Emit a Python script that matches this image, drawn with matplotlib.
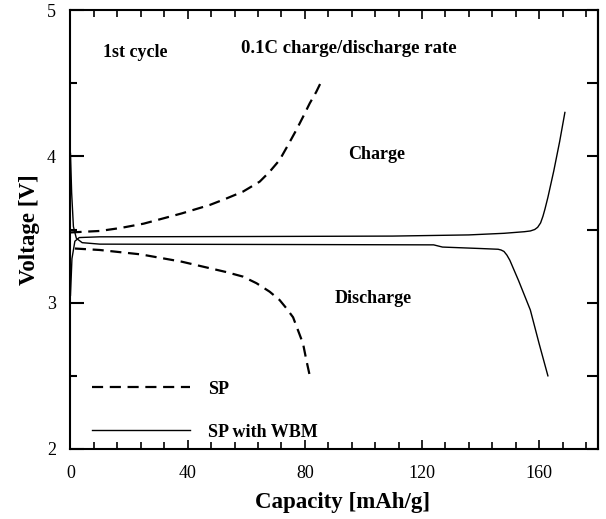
"""Voltage profile, 1st cycle: SP vs SP with WBM"""

import matplotlib
matplotlib.use("Agg")
import matplotlib.pyplot as plt
from matplotlib.ticker import MultipleLocator

# SP (dashed) charge / discharge
sp_charge_x = [0, 10, 17, 25, 38, 47.6, 53, 58.9, 64.6, 68, 71.4, 74.3, 77.1, 79.4, 81.7, 83.9, 85.6]
sp_charge_y = [3.48, 3.49, 3.51, 3.54, 3.61, 3.668, 3.71, 3.759, 3.827, 3.895, 3.975, 4.078, 4.18, 4.27, 4.363, 4.44, 4.51]
sp_dis_x = [1.5, 10, 24, 38, 53, 58.9, 63.5, 68, 71.4, 73.7, 76, 77.7, 79.4, 80.5, 81.7]
sp_dis_y = [3.37, 3.36, 3.33, 3.28, 3.21, 3.178, 3.133, 3.075, 3.018, 2.962, 2.90, 2.81, 2.72, 2.61, 2.50]

# SP with WBM (solid) charge / discharge
wbm_charge_x = [0, 0.5, 1.5, 3, 10, 60, 110, 136, 148, 155, 157, 158.5, 159.5, 160.5, 161.3, 162,
                163, 165, 167, 168.8]
wbm_charge_y = [3.05, 3.3, 3.42, 3.445, 3.45, 3.452, 3.455, 3.463, 3.474, 3.485, 3.49, 3.50, 3.515, 3.545, 3.59, 3.64,
                3.72, 3.90, 4.10, 4.30]
wbm_dis_x = [0, 0.4, 1, 2, 4, 10, 60, 124, 127, 140, 146, 147, 148, 149, 150, 151.5, 153, 157, 160, 163]
wbm_dis_y = [4.02, 3.75, 3.52, 3.44, 3.41, 3.40, 3.398, 3.395, 3.38, 3.37, 3.365, 3.36, 3.35, 3.325, 3.29, 3.22, 3.15, 2.95, 2.72, 2.50]

plt.rcParams['font.family'] = ['Liberation Serif', 'DejaVu Serif']

fig = plt.figure(figsize=(6.06, 5.19), dpi=100)
ax = fig.add_axes([0.1163, 0.1349, 0.8700, 0.8458])

ax.plot(sp_charge_x, sp_charge_y, color='black', lw=1.6, dashes=(5, 3), label='SP')
ax.plot(sp_dis_x, sp_dis_y, color='black', lw=1.6, dashes=(5, 3))
ax.plot(wbm_charge_x, wbm_charge_y, color='black', lw=1.0, label='SP with WBM')
ax.plot(wbm_dis_x, wbm_dis_y, color='black', lw=1.0)

ax.set_xlim(0, 180)
ax.set_ylim(2, 5)
ax.xaxis.set_major_locator(MultipleLocator(40))
ax.xaxis.set_minor_locator(MultipleLocator(8))
ax.yaxis.set_major_locator(MultipleLocator(1))
ax.yaxis.set_minor_locator(MultipleLocator(0.5))

for s in ax.spines.values():
    s.set_linewidth(1.5)

ax.tick_params(axis='x', which='both', direction='in', top=True, labelsize=13, pad=11.5, width=1.2)
ax.tick_params(axis='x', which='major', length=6.8)
ax.tick_params(axis='x', which='minor', length=4.8)
ax.tick_params(axis='y', which='both', direction='in', labelsize=13, pad=10.5, width=1.5)
ax.tick_params(axis='y', which='major', length=10)
ax.tick_params(axis='y', which='minor', length=5)

# right-hand ticks are all the same length in the original
sec = ax.secondary_yaxis('right')
sec.yaxis.set_major_locator(MultipleLocator(0.5))
sec.tick_params(direction='in', length=8, width=1.5, labelright=False)
sec.spines['right'].set_linewidth(1.5)

ax.set_xlabel('Capacity [mAh/g]', fontsize=16.5, fontweight='bold', labelpad=8)
ax.set_ylabel('Voltage [V]', fontsize=16.5, fontweight='bold', labelpad=5)
ax.xaxis.set_label_coords(0.517, -0.097)

ax.text(11, 4.713, '1st cycle', fontsize=13, fontweight='bold', va='center', ha='left')
ax.text(95, 4.734, '0.1C charge/discharge rate', fontsize=13.5, fontweight='bold', va='center', ha='center')
ax.text(104.5, 4.01, 'Charge', fontsize=13, fontweight='bold', va='center', ha='center')
ax.text(103.5, 3.03, 'Discharge', fontsize=13, fontweight='bold', va='center', ha='center')

leg = ax.legend(loc='lower left', bbox_to_anchor=(0.0105, -0.018), frameon=False,
                handlelength=5.4, handletextpad=1.0, labelspacing=1.44,
                prop={'size': 13, 'weight': 'bold'})

fig.savefig('out.png', dpi=100)
